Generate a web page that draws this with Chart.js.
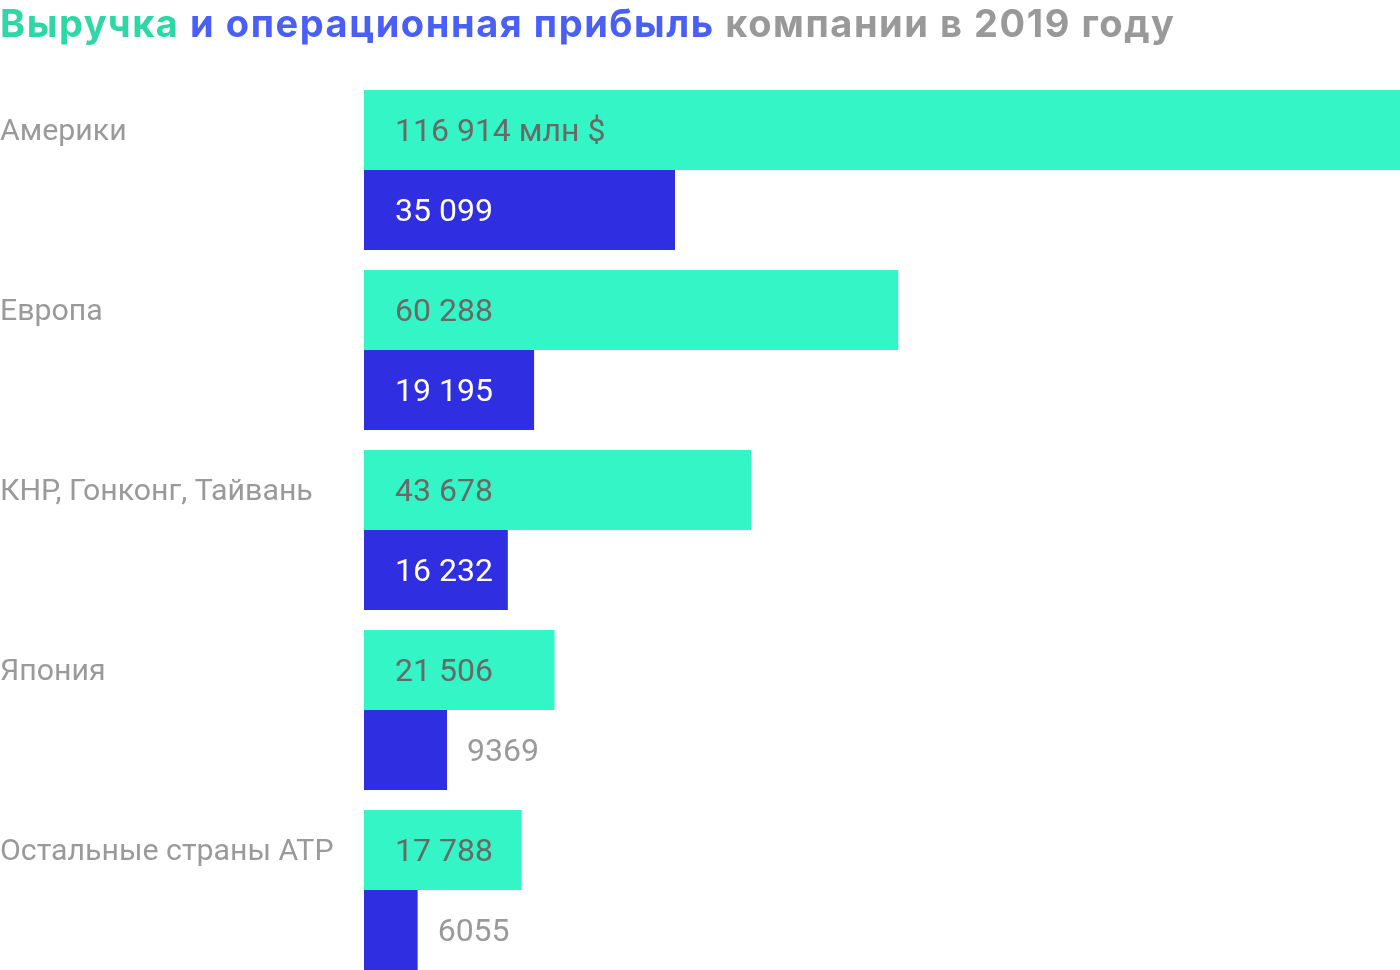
<!DOCTYPE html>
<html>
<head>
<meta charset="utf-8">
<script src="https://cdn.jsdelivr.net/npm/chart.js@4/dist/chart.umd.min.js"></script>
<style>
	html, body { margin: 0; padding: 0; background: #fff; overflow: hidden; }
	#wrap { position: relative; width: 1400px; height: 980px; }
	#title {
		position: absolute; left: 0; top: 0; white-space: nowrap;
		font-family: Inter, sans-serif; font-weight: 700; font-size: 38px; line-height: 46px;
		letter-spacing: 1.55px; color: #999999;
	}
	#title .g { color: #2ed8a6; }
	#title .b { color: #4a5ff6; }
</style>
</head>
<body>
<div id="wrap">
	<canvas id="myChart" width="1400" height="980"></canvas>
	<div id="title"><span class="g">Выручка</span> <span class="b">и операционная прибыль</span> компании в 2019 году</div>
</div>
<script>
let regions = ['Америки', 'Европа', 'КНР, Гонконг, Тайвань', 'Япония', 'Остальные страны АТР']
let revenue = [116914, 60288, 43678, 21506, 17788]
let opIncome = [35099, 19195, 16232, 9369, 6055]

function fmt(v) {
	if (v < 10000) return String(v)
	return String(v).replace(/\B(?=(\d{3})+(?!\d))/g, ' ')
}

let valueLabels = {
	id: 'valueLabels',
	afterDatasetsDraw(chart) {
		let ctx = chart.ctx
		ctx.save()
		ctx.font = '32px Roboto, sans-serif'
		ctx.textBaseline = 'middle'
		ctx.textAlign = 'left'
		chart.data.datasets.forEach((ds, di) => {
			chart.getDatasetMeta(di).data.forEach((bar, i) => {
				let text = fmt(ds.data[i])
				if (di == 0 && i == 0) text += ' млн $'
				let x = bar.base + 31
				let w = ctx.measureText(text).width
				if (di == 0) {
					ctx.fillStyle = '#6b6868'
				} else if (w + 41 < bar.x - bar.base) {
					ctx.fillStyle = '#ffffff'
				} else {
					x = bar.x + 20
					ctx.fillStyle = '#9a9a9a'
				}
				ctx.fillText(text, x, bar.y + 3)
			})
		})
		ctx.restore()
	},
}

var ctx = document.getElementById('myChart').getContext('2d')
var myChart = new Chart(ctx, {
	type: 'bar',
	data: {
		labels: regions,
		datasets: [
			{ label: 'Выручка', data: revenue, backgroundColor: '#33f5c5' },
			{ label: 'Операционная прибыль', data: opIncome, backgroundColor: '#2f2ee0' },
		],
	},
	options: {
		indexAxis: 'y',
		responsive: false,
		animation: false,
		layout: { padding: { top: 80, right: 0, bottom: 0, left: 0 } },
		datasets: { bar: { categoryPercentage: 160 / 180, barPercentage: 1, borderWidth: 0 } },
		plugins: { legend: { display: false }, tooltip: { enabled: false } },
		scales: {
			x: { display: false, min: 0, max: 116914 },
			y: {
				border: { display: false },
				grid: { display: false, drawTicks: false },
				afterFit(scale) { scale.width = 364 },
				ticks: {
					crossAlign: 'far',
					padding: 0,
					labelOffset: -38,
					color: '#9a9a9a',
					// lineHeight 0 so the axis does not reserve half a label at top and bottom
					font: { family: 'Roboto, sans-serif', size: 30.3, lineHeight: 0 },
				},
			},
		},
	},
	plugins: [valueLabels],
})
</script>
</body>
</html>
